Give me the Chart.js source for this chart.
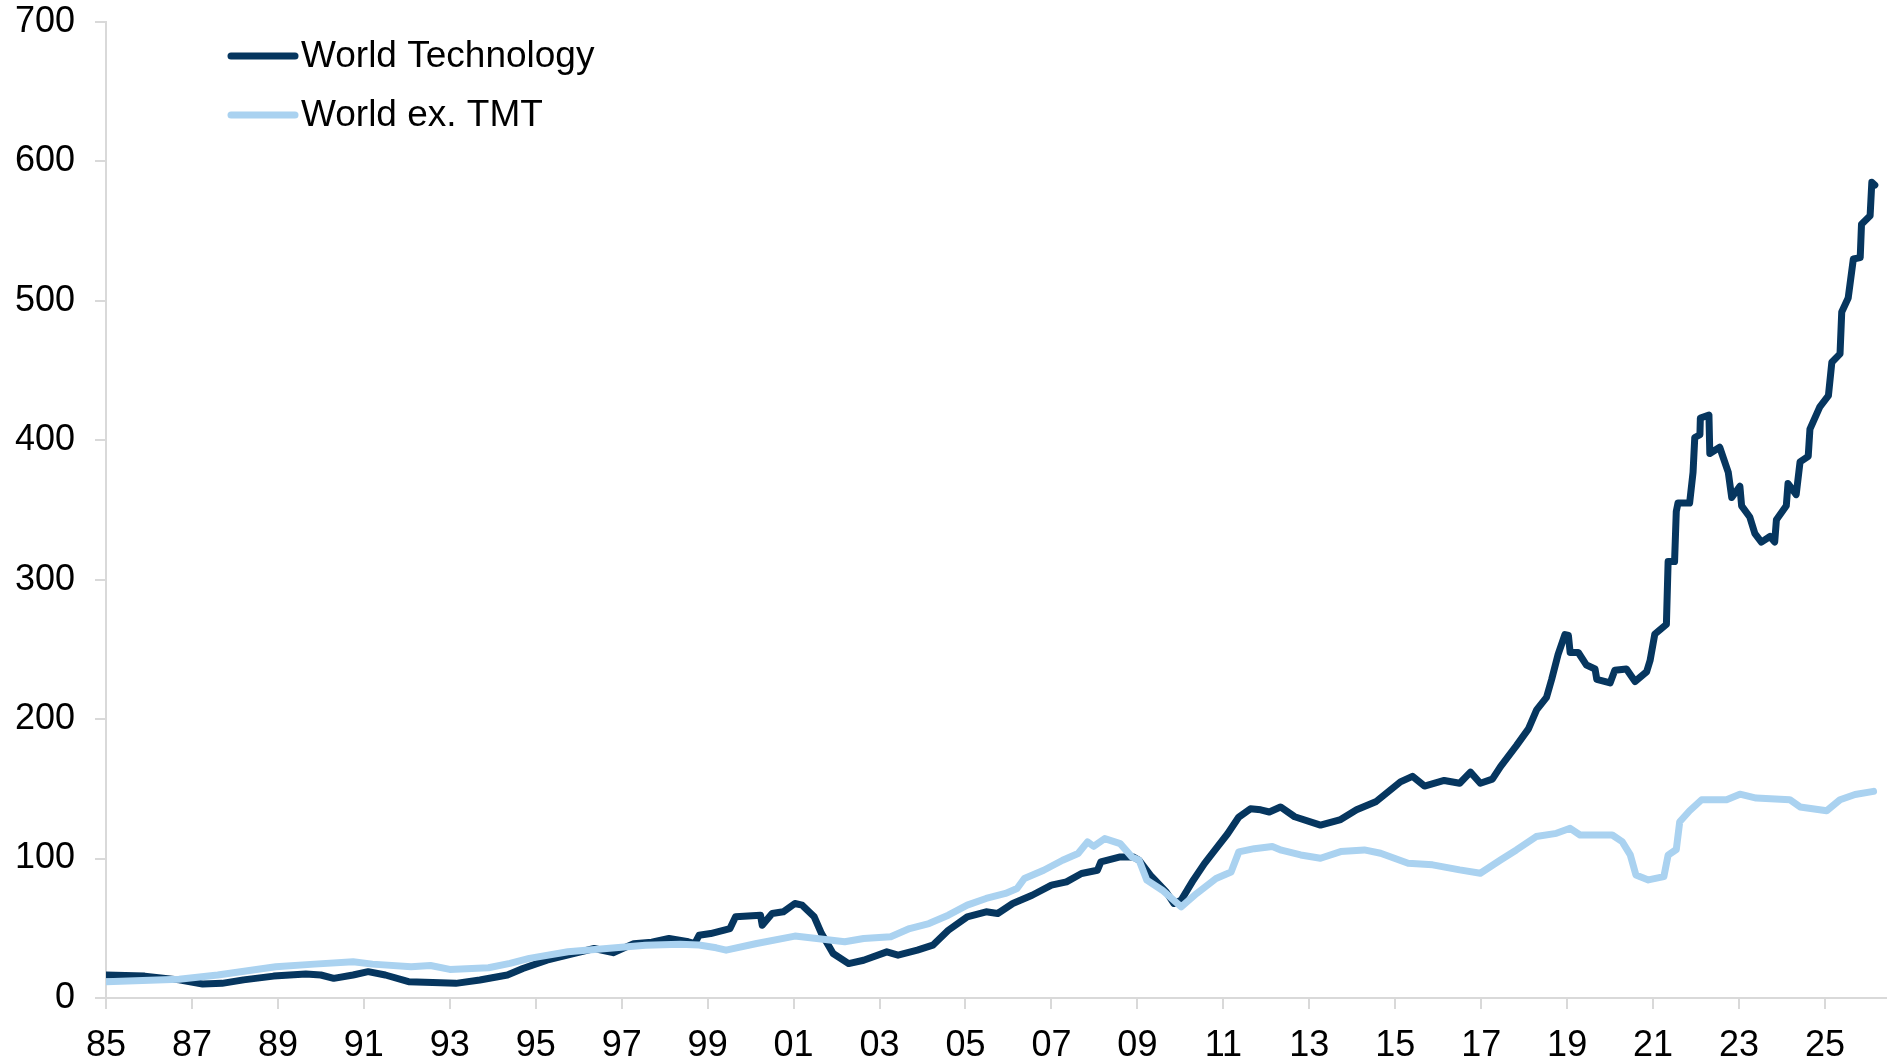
<!DOCTYPE html>
<html>
<head>
<meta charset="utf-8">
<title>World Technology vs World ex. TMT</title>
<script src="https://cdn.jsdelivr.net/npm/chart.js@4.4.1/dist/chart.umd.min.js"></script>
<style>
  html, body { margin: 0; padding: 0; background: #fff; }
  #wrap { width: 1888px; height: 1061px; position: relative; }
</style>
</head>
<body>
<div id="wrap"><canvas id="chart"></canvas></div>
<script>
// values (decimal years)
const techYears = [
  1985.0, 1985.9, 1986.7, 1987.25, 1987.7, 1988.2, 1988.9, 1989.65, 1990.0, 1990.3,
  1990.75, 1991.1, 1991.5, 1992.04, 1992.6, 1993.14, 1993.7, 1994.34, 1994.7, 1995.26,
  1995.9, 1996.36, 1996.8, 1997.28, 1997.7, 1998.1, 1998.55, 1998.7, 1998.8, 1999.07,
  1999.52, 1999.65, 2000.23, 2000.27, 2000.5, 2000.76, 2001.03, 2001.2, 2001.48, 2001.65,
  2001.92, 2002.28, 2002.63, 2003.17, 2003.43, 2003.88, 2004.24, 2004.6, 2005.04, 2005.48,
  2005.75, 2006.1, 2006.55, 2007.0, 2007.35, 2007.7, 2008.07, 2008.15, 2008.6, 2008.9,
  2009.04, 2009.3, 2009.67, 2009.85, 2010.02, 2010.3, 2010.56, 2010.83, 2011.1, 2011.36,
  2011.63, 2011.87, 2012.07, 2012.33, 2012.66, 2013.26, 2013.73, 2014.1, 2014.56, 2014.84,
  2015.12, 2015.4, 2015.68, 2016.14, 2016.5, 2016.75, 2016.98, 2017.26, 2017.45, 2017.82,
  2018.1, 2018.29, 2018.52, 2018.64, 2018.79, 2018.95, 2019.03, 2019.07, 2019.26, 2019.45,
  2019.65, 2019.69, 2020.0, 2020.11, 2020.38, 2020.58, 2020.85, 2020.93, 2021.04, 2021.31,
  2021.35, 2021.5, 2021.54, 2021.58, 2021.85, 2021.93, 2021.97, 2022.09, 2022.1, 2022.3,
  2022.32, 2022.55, 2022.75, 2022.83, 2023.02, 2023.06, 2023.25, 2023.37, 2023.52, 2023.72,
  2023.83, 2023.87, 2024.1, 2024.14, 2024.33, 2024.42, 2024.61, 2024.65, 2024.88, 2025.08,
  2025.16, 2025.35, 2025.39, 2025.54, 2025.66, 2025.82, 2025.85, 2026.05, 2026.09, 2026.16
];
const techValues = [
  16.5, 15.7, 13, 10, 10.5, 13, 15.7, 17.2, 16.5, 14.1,
  16.5, 18.9, 16.5, 11.7, 11.2, 10.5, 12.9, 16.5, 21.2, 27.2,
  32, 35.5, 32.5, 39, 40, 42.7, 40.3, 39, 45, 46.2,
  49.8, 58.2, 59.4, 52.2, 60.6, 61.8, 67.8, 66.6, 58.2, 46.2,
  31.9, 24.7, 27.1, 33.1, 30.7, 34.3, 37.9, 48.6, 58.2, 61.8,
  60.6, 67.8, 73.7, 80.9, 83.3, 89.3, 91.6, 97.6, 101.2, 101.2,
  98.8, 88.1, 76.1, 67.8, 70.2, 84.5, 96.4, 107.1, 117.8, 129.8,
  135.7, 135, 133.4, 137, 130, 124, 128, 135, 141, 148,
  155, 159, 152, 156, 154, 162, 154, 157, 166, 181,
  193, 206.6, 215.6, 228.5, 246.5, 260.7, 260, 247.8, 247.8, 238.8,
  236, 228.5, 226, 235, 236, 227, 234, 242, 261, 268,
  313, 313, 349, 355, 355, 377, 402, 404, 416, 418,
  390.5, 395, 377, 359, 367, 353, 345, 333, 327, 331,
  327, 343, 353, 369, 361, 384.5, 388.5, 408, 424, 432,
  456, 462, 492, 502, 530, 531, 555, 561, 585, 583
];

const exTmtYears = [
  1985.0, 1986.7, 1987.6, 1988.5, 1988.95, 1989.85, 1990.75, 1991.2, 1992.1, 1992.55,
  1993.0, 1993.9, 1994.4, 1994.85, 1995.75, 1996.65, 1997.55, 1998.36, 1998.8, 1999.2,
  1999.43, 2000.14, 2001.03, 2001.74, 2002.19, 2002.63, 2003.26, 2003.7, 2004.15, 2004.6,
  2005.04, 2005.48, 2005.93, 2006.2, 2006.37, 2006.82, 2007.26, 2007.62, 2007.84, 2007.98,
  2008.24, 2008.6, 2008.87, 2009.04, 2009.22, 2009.58, 2010.02, 2010.38, 2010.83, 2011.18,
  2011.36, 2011.72, 2012.14, 2012.35, 2012.8, 2013.26, 2013.73, 2014.28, 2014.66, 2015.3,
  2015.87, 2016.5, 2016.98, 2017.45, 2017.82, 2018.28, 2018.75, 2019.07, 2019.3, 2020.05,
  2020.28, 2020.47, 2020.6, 2020.89, 2021.25, 2021.35, 2021.54, 2021.62, 2021.85, 2022.13,
  2022.71, 2023.02, 2023.4, 2024.18, 2024.42, 2025.04, 2025.35, 2025.7, 2026.13
];
const exTmtValues = [
  11.7, 13.4, 16.5, 20.5, 22.4, 24.3, 26, 24.3, 22.4, 23.3,
  20.5, 21.7, 24.8, 28.4, 33.2, 35.5, 37.9, 38.5, 38, 36,
  34.3, 39.1, 44.4, 42, 40.3, 42.7, 43.9, 49.8, 53.4, 59.4,
  66.6, 71.4, 75, 78.5, 85.7, 91.6, 98.8, 103.6, 112, 108.8,
  114.3, 110.7, 101.2, 98.8, 84.5, 77.3, 65.4, 75, 85.7, 90.4,
  104.8, 107.1, 108.6, 106, 102.6, 100.2, 105, 106.2, 103.8, 96.7,
  95.5, 91.9, 89.5, 99, 106.2, 115.8, 118.1, 121.7, 116.9, 116.9,
  112.2, 102.6, 88.3, 84.7, 87, 102.5, 106.5, 126.4, 134.3, 142.2,
  142.2, 146.2, 143.4, 142.2, 137, 134.3, 142.2, 146, 148.2
];

const seriesNames = ["World Technology", "World ex. TMT"];
const xTickYears = [1985, 1987, 1989, 1991, 1993, 1995, 1997, 1999, 2001, 2003, 2005,
  2007, 2009, 2011, 2013, 2015, 2017, 2019, 2021, 2023, 2025];

const DARK = "#06365f";
const LIGHT = "#aad2f0";
const AXIS = "#d9d9d9";
const FONT = "'Liberation Sans', Arial, sans-serif";

function toPoints(xs, ys) {
  return xs.map((x, i) => ({ x, y: ys[i] }));
}

// simple legend drawn at the top left of the plot, like the original
const legendPlugin = {
  id: "cornerLegend",
  afterDraw(chart) {
    const ctx = chart.ctx;
    const items = [chart.data.datasets[0], chart.data.datasets[1]];
    ctx.save();
    ctx.font = "37px " + FONT;
    ctx.textBaseline = "middle";
    ctx.fillStyle = "#000";
    items.forEach((ds, i) => {
      const y = 56 + i * 59;
      ctx.beginPath();
      ctx.lineCap = "round";
      ctx.lineWidth = 7;
      ctx.strokeStyle = ds.borderColor;
      ctx.moveTo(231, y);
      ctx.lineTo(295, y);
      ctx.stroke();
      ctx.fillText(ds.label, 301, y + 1);
    });
    ctx.restore();
  }
};

new Chart(document.getElementById("chart"), {
  type: "line",
  data: {
    datasets: [
      {
        label: seriesNames[0],
        data: toPoints(techYears, techValues),
        borderColor: DARK,
        backgroundColor: DARK,
        borderWidth: 7,
        borderCapStyle: "round",
        borderJoinStyle: "round",
        pointRadius: 0,
        tension: 0,
        order: 1
      },
      {
        label: seriesNames[1],
        data: toPoints(exTmtYears, exTmtValues),
        borderColor: LIGHT,
        backgroundColor: LIGHT,
        borderWidth: 7,
        borderCapStyle: "round",
        borderJoinStyle: "round",
        pointRadius: 0,
        tension: 0,
        order: 0
      }
    ]
  },
  options: {
    responsive: true,
    maintainAspectRatio: false,
    animation: false,
    layout: { padding: { top: 0, right: 2, left: 0, bottom: 0 } },
    plugins: {
      legend: { display: false },
      tooltip: { enabled: false }
    },
    scales: {
      x: {
        type: "linear",
        min: 1985,
        max: 2026.42,
        afterBuildTicks: (scale) => {
          scale.ticks = xTickYears.map(v => ({ value: v }));
        },
        afterFit: (scale) => { scale.height = 63; },
        grid: {
          drawOnChartArea: false,
          drawTicks: true,
          tickLength: 11,
          color: AXIS,
          lineWidth: 2
        },
        border: { color: AXIS, width: 2 },
        ticks: {
          autoSkip: false,
          maxRotation: 0,
          padding: 15,
          color: "#000",
          font: { family: FONT, size: 36 },
          callback: (v) => String(v % 100).padStart(2, "0")
        }
      },
      y: {
        min: 0,
        max: 700,
        afterFit: (scale) => {
          scale.width = 106;
          // keep the plot top close to the canvas edge, as in the original
          scale.paddingTop = 22;
          scale.paddingBottom = 0;
        },
        grid: {
          drawOnChartArea: false,
          drawTicks: true,
          tickLength: 11,
          color: AXIS,
          lineWidth: 2
        },
        border: { color: AXIS, width: 2 },
        ticks: {
          stepSize: 100,
          padding: 20,
          color: "#000",
          font: { family: FONT, size: 36 }
        }
      }
    }
  },
  plugins: [legendPlugin]
});
</script>
</body>
</html>
